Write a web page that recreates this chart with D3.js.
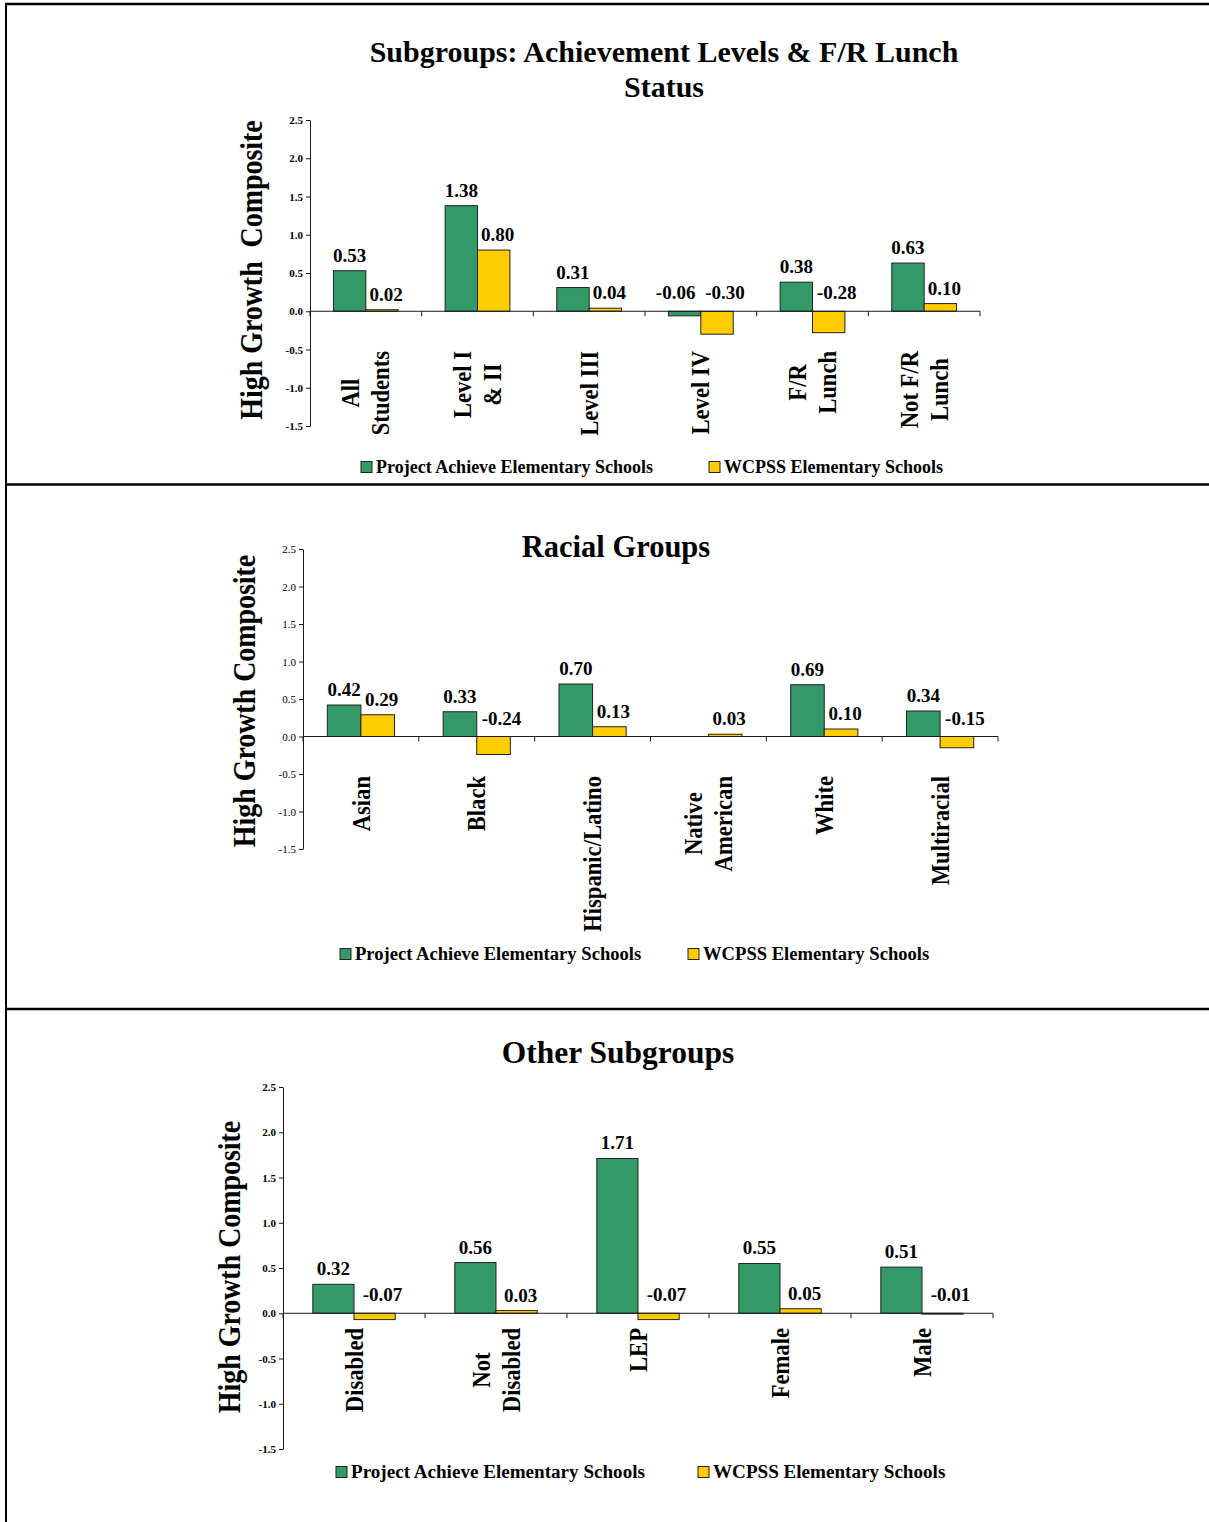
<!DOCTYPE html>
<html>
<head>
<meta charset="utf-8">
<script src="https://cdn.jsdelivr.net/npm/d3@7"></script>
<style>
  body { margin: 0; background: #fff; }
  svg { display: block; }
  text { font-family: "Liberation Serif", "Times New Roman", serif; fill: #000; }
</style>
</head>
<body>
<svg id="page" width="1209" height="1522"></svg>
<script>
// ---- data ----
const seriesNames = ["Project Achieve Elementary Schools", "WCPSS Elementary Schools"];
const yTicks = [-1.5, -1.0, -0.5, 0.0, 0.5, 1.0, 1.5, 2.0, 2.5];

const achievementCategories = [["All", "Students"], ["Level I", "& II"], ["Level III"], ["Level IV"], ["F/R", "Lunch"], ["Not F/R", "Lunch"]];
const achievementProject = [0.53, 1.38, 0.31, -0.06, 0.38, 0.63];
const achievementWcpss = [0.02, 0.80, 0.04, -0.30, -0.28, 0.10];

const racialCategories = [["Asian"], ["Black"], ["Hispanic/Latino"], ["Native", "American"], ["White"], ["Multiracial"]];
const racialProject = [0.42, 0.33, 0.70, null, 0.69, 0.34];
const racialWcpss = [0.29, -0.24, 0.13, 0.03, 0.10, -0.15];

const otherCategories = [["Disabled"], ["Not", "Disabled"], ["LEP"], ["Female"], ["Male"]];
const otherProject = [0.32, 0.56, 1.71, 0.55, 0.51];
const otherWcpss = [-0.07, 0.03, -0.07, 0.05, -0.01];

// ---- styling / layout ----
const colors = ["#339966", "#FFCC00"];
const ink = "#1a1a1a";
const loc = d3.formatLocale({ decimal: ".", thousands: ",", grouping: [3], currency: ["$", ""], minus: "-" });
const fmtTick = loc.format(".1f");
const fmtVal = loc.format(".2f");

const panels = [
  {
    title: ["Subgroups: Achievement Levels & F/R Lunch", "Status"], titleX: 664, titleY: [62, 97], titleSize: 30,
    yTitle: "High Growth  Composite", yTitleX: 262, yTitleY: 270,
    left: 310, right: 980, top: 120, bottom: 426, catTop: 351, boldTicks: true,
    legendY: 467, legendX: [361, 709], legendSize: 18,
    categories: achievementCategories, series: [achievementProject, achievementWcpss]
  },
  {
    title: ["Racial Groups"], titleX: 616, titleY: [557], titleSize: 30.5,
    yTitle: "High Growth Composite", yTitleX: 255, yTitleY: 701,
    left: 303, right: 998, top: 549, bottom: 849, catTop: 776, boldTicks: false,
    legendY: 954, legendX: [340, 688], legendSize: 18.6,
    categories: racialCategories, series: [racialProject, racialWcpss]
  },
  {
    title: ["Other Subgroups"], titleX: 618, titleY: [1063], titleSize: 31.5,
    yTitle: "High Growth Composite", yTitleX: 240, yTitleY: 1267,
    left: 283, right: 993, top: 1087, bottom: 1449, catTop: 1328, boldTicks: true,
    legendY: 1472, legendX: [336, 698], legendSize: 19.1,
    categories: otherCategories, series: [otherProject, otherWcpss]
  }
];

const svg = d3.select("#page");

// page frame and panel separators
const frame = svg.append("g").attr("stroke", "#000").attr("fill", "none");
frame.append("line").attr("x1", 5).attr("x2", 1209).attr("y1", 4).attr("y2", 4).attr("stroke-width", 2.5);
frame.append("line").attr("x1", 6).attr("x2", 6).attr("y1", 3).attr("y2", 1522).attr("stroke-width", 2);
frame.append("line").attr("x1", 5).attr("x2", 1209).attr("y1", 484.5).attr("y2", 484.5).attr("stroke-width", 2.5);
frame.append("line").attr("x1", 5).attr("x2", 1209).attr("y1", 1009).attr("y2", 1009).attr("stroke-width", 2.5);

panels.forEach(p => {
  const g = svg.append("g");
  const idx = p.categories.map((_, i) => i);
  const x = d3.scaleBand().domain(idx).range([p.left, p.right]).padding(0);
  const y = d3.scaleLinear().domain([-1.5, 2.5]).range([p.bottom, p.top]);
  const bw = x.bandwidth() * 0.29;
  const y0 = y(0);

  // title
  p.title.forEach((t, i) => {
    g.append("text").attr("x", p.titleX).attr("y", p.titleY[i])
      .attr("text-anchor", "middle").attr("font-size", p.titleSize).attr("font-weight", "bold").text(t);
  });

  // y axis title
  g.append("text")
    .attr("transform", `translate(${p.yTitleX},${p.yTitleY}) rotate(-90) scale(0.9,1)`)
    .attr("text-anchor", "middle").attr("font-size", 31).attr("font-weight", "bold")
    .style("white-space", "pre").text(p.yTitle);

  // bars
  p.series.forEach((vals, s) => {
    g.append("g").selectAll("rect")
      .data(vals.map((v, i) => ({ v, i })).filter(d => d.v !== null))
      .join("rect")
      .attr("x", d => x(d.i) + x.bandwidth() / 2 + (s === 0 ? -bw : 0))
      .attr("width", bw)
      .attr("y", d => Math.min(y(d.v), y0))
      .attr("height", d => Math.abs(y(d.v) - y0))
      .attr("fill", colors[s]).attr("stroke", "#222").attr("stroke-width", 1);
  });

  // y axis
  const ya = g.append("g").attr("transform", `translate(${p.left},0)`)
    .call(d3.axisLeft(y).tickValues(yTicks).tickSize(4).tickSizeOuter(0).tickFormat(fmtTick));
  ya.select(".domain").attr("stroke", ink);
  ya.selectAll(".tick line").attr("stroke", ink);
  ya.selectAll(".tick text")
    .attr("font-family", '"Liberation Serif", "Times New Roman", serif')
    .attr("font-size", 11).attr("font-weight", p.boldTicks ? "bold" : "normal").attr("fill", "#000");

  // x axis at zero with tick marks on category boundaries
  g.append("line").attr("x1", p.left).attr("x2", p.right).attr("y1", y0).attr("y2", y0)
    .attr("stroke", ink).attr("stroke-width", 1);
  const bounds = idx.map(i => x(i)).concat([p.right]);
  g.append("g").selectAll("line").data(bounds).join("line")
    .attr("x1", d => d).attr("x2", d => d).attr("y1", y0).attr("y2", y0 + 5)
    .attr("stroke", ink).attr("stroke-width", 1);

  // value labels
  p.series.forEach((vals, s) => {
    g.append("g").selectAll("text")
      .data(vals.map((v, i) => ({ v, i })).filter(d => d.v !== null))
      .join("text")
      .attr("x", d => {
        const cx = x(d.i) + x.bandwidth() / 2 + (s === 0 ? -bw / 2 : bw / 2);
        if (s === 0) return cx + (d.v < 0 ? -9 : 0);
        return cx + (d.v < 0 ? 8 : 4);
      })
      .attr("y", d => d.v >= 0 ? y(d.v) - 9 : y0 - 12)
      .attr("text-anchor", "middle").attr("font-size", 19).attr("font-weight", "bold")
      .text(d => fmtVal(d.v));
  });

  // category labels, rotated, top-aligned below the axis
  const catSize = 26, lineGap = 30, capH = catSize * 0.662;
  p.categories.forEach((lines, i) => {
    const cx = x(i) + x.bandwidth() / 2;
    const lg = g.append("g")
      .attr("transform", `translate(${cx},${p.catTop}) rotate(-90) scale(0.87,1)`);
    const texts = lines.map((t, k) => lg.append("text")
      .attr("font-size", catSize).attr("font-weight", "bold")
      .attr("text-anchor", "middle")
      .attr("y", capH / 2 - (lines.length - 1) * lineGap / 2 + k * lineGap)
      .text(t));
    const maxLen = d3.max(texts, t => t.node().getComputedTextLength());
    texts.forEach(t => t.attr("x", -maxLen / 2));
  });

  // legend
  const lg = g.append("g");
  seriesNames.forEach((name, s) => {
    lg.append("rect").attr("x", p.legendX[s]).attr("y", p.legendY - 5.5)
      .attr("width", 11).attr("height", 11)
      .attr("fill", colors[s]).attr("stroke", "#222").attr("stroke-width", 1);
    lg.append("text").attr("x", p.legendX[s] + 15).attr("y", p.legendY + 6)
      .attr("font-size", p.legendSize).attr("font-weight", "bold").text(name);
  });
});
</script>
</body>
</html>
